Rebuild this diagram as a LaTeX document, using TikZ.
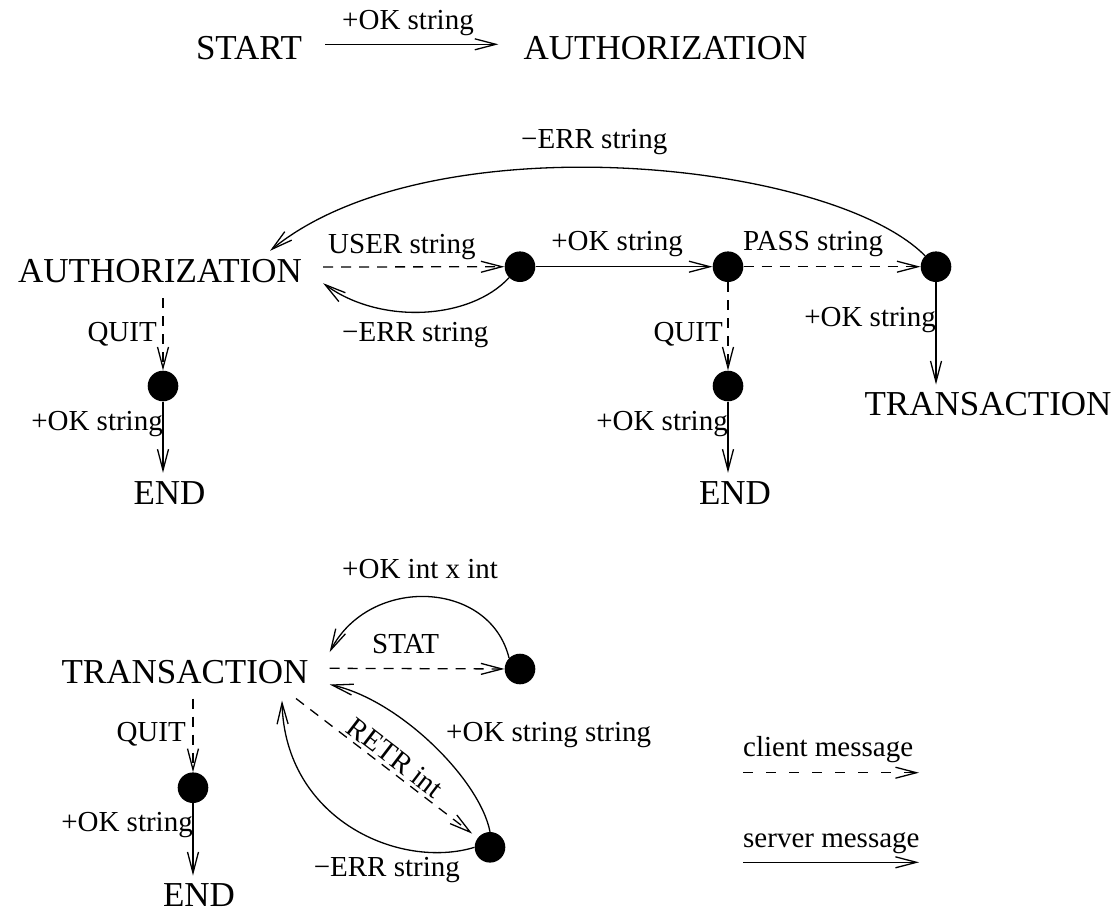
\documentclass[tikz,border=0pt]{standalone}
\usepackage{fontspec}
\setmainfont{Liberation Serif}
\usetikzlibrary{arrows.meta,calc}
\begin{document}
\begin{tikzpicture}[x=1pt,y=-1pt,
  state/.style={font=\fontsize{35}{40}\selectfont, inner xsep=21pt, inner ysep=1pt,
                text height=30pt, text depth=0pt, anchor=base},
  lbl/.style={font=\fontsize{29}{34}\selectfont, inner sep=0pt},
  dot/.style={circle, fill=black, draw=none, inner sep=0pt, minimum size=30.6pt},
  msg/.style={line width=1.3pt, -{Straight Barb[length=21pt,width=11pt]}},
  srv/.style={msg},
  cli/.style={msg, dash pattern=on 10pt off 8pt},
]
\useasboundingbox (0,0) rectangle (1115,911);

% ---------- opening ----------
\node[state] (start) at (249,59.3) {START};
\node[state] (auth0) at (665.5,59.3) {AUTHORIZATION};
\draw[srv, shorten <=2pt, shorten >=4pt] (start.east) -- (auth0.west);
\node[lbl, anchor=base west] (l0) at (342,29.3) {+OK string};

% ---------- authorization phase ----------
\node[state] (auth1) at (160,282) {AUTHORIZATION};
\node[dot] (u1) at (520,266.7) {};
\node[dot] (u2) at (728,266.7) {};
\node[dot] (u3) at (936,266.7) {};
\node[dot] (qa) at (163,386) {};
\node[dot] (qb) at (728,386) {};
\node[state] (end1) at (169.5,504) {END};
\node[state] (end2) at (735,504) {END};
\node[state] (trans1) at (988,415.7) {TRANSACTION};

\draw[cli] (auth1.east) -- (u1);
\draw[srv] (u1) -- (u2);
\draw[cli] (u2) -- (u3);
\draw[srv] (u3) -- (u3 |- trans1.north);
\draw[srv] (u3.135) .. controls (830,160) and (430,120) .. ($(auth1.north)+(110,0)$);
\draw[srv] (u1.225) .. controls (470,320) and (380,325) .. (auth1.south east);
\draw[cli] ($(auth1.south -| qa)+(0,15)$) -- (qa);
\draw[srv] (qa) -- (qa |- end1.north);
\draw[cli] (u2) -- (qb);
\draw[srv] (qb) -- (qb |- end2.north);

\node[lbl, anchor=base west] (l1) at (521,148.3) {−ERR string};
\node[lbl, anchor=base west] (l2) at (328,253.3) {USER string};
\node[lbl, anchor=base east] (l3) at (683,250.7) {+OK string};
\node[lbl, anchor=base west] (l4) at (743,250.7) {PASS string};
\node[lbl, anchor=base west] (l5) at (342,341.7) {−ERR string};
\node[lbl, anchor=base east] (l6) at (157,341.7) {QUIT};
\node[lbl, anchor=base east] (l7) at (163,430) {+OK string};
\node[lbl, anchor=base east] (l8) at (723,341.7) {QUIT};
\node[lbl, anchor=base east] (l9) at (728,430) {+OK string};
\node[lbl, anchor=base east] (l10) at (936,326.7) {+OK string};

% ---------- transaction phase ----------
\node[state] (trans2) at (185,683.3) {TRANSACTION};
\node[dot] (s1) at (520,669) {};
\node[dot] (r1) at (490,847.3) {};
\node[dot] (qc) at (193,787.7) {};
\node[state] (end3) at (199,906.7) {END};

\draw[cli] (trans2.east) -- (s1);
\draw[srv] (s1.135) .. controls (490,580) and (370,575) .. (trans2.north east);
\draw[cli, shorten >=7pt] ($(trans2.south)+(111,14)$) -- (r1)
  node[lbl, sloped, pos=0.5, above=3pt] (l14) {RETR int};
\draw[srv] (r1.north) .. controls (480,780) and (400,700) .. (trans2.south east);
\draw[srv] (r1.west) .. controls (400,870) and (285,820) .. ($(trans2.south)+(97,16)$);
\draw[cli] ($(trans2.south -| qc)+(0,14)$) -- (qc);
\draw[srv] (qc) -- (qc |- end3.north);

\node[lbl, anchor=base west] (l11) at (342,578.3) {+OK int x int};
\node[lbl, anchor=base west] (l12) at (372,653.3) {STAT};
\node[lbl, anchor=base west] (l13) at (446,741.7) {+OK string string};
\node[lbl, anchor=base west] (l15) at (313.6,876.7) {−ERR string};
\node[lbl, anchor=base east] (l16) at (186,741.7) {QUIT};
\node[lbl, anchor=base east] (l17) at (193,831.7) {+OK string};

% ---------- legend ----------
\node[lbl, anchor=base west] (lc) at (743,756.7) {client message};
\coordinate (cl0) at (743,772.7);
\coordinate (cl1) at (919,772.7);
\draw[msg, dash pattern=on 10pt off 13pt] (cl0) -- (cl1);
\node[lbl, anchor=base west] (ls) at (743,847.3) {server message};
\coordinate (sv0) at (743,862.3);
\coordinate (sv1) at (919,862.3);
\draw[srv] (sv0) -- (sv1);
\end{tikzpicture}
\end{document}
